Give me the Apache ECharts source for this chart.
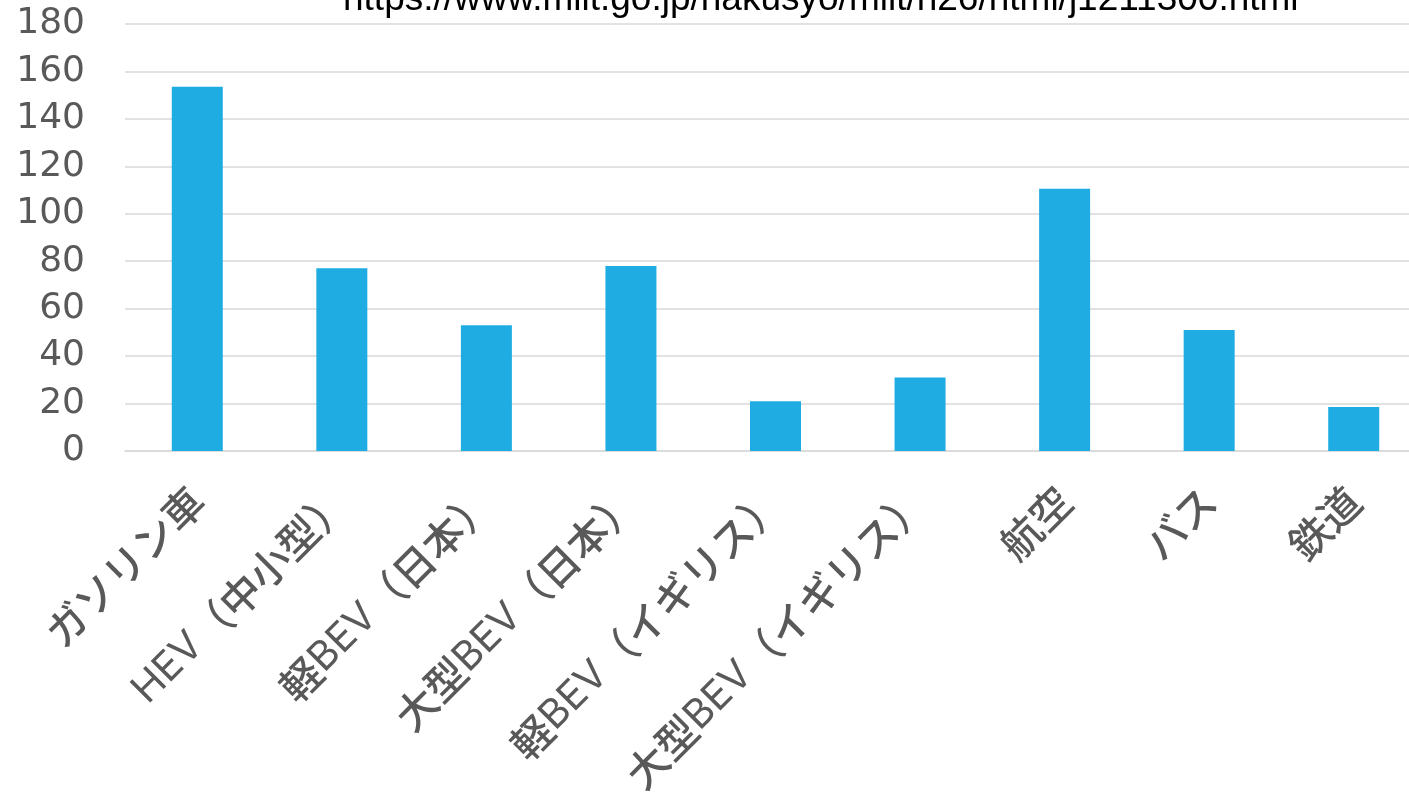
<!DOCTYPE html>
<html><head><meta charset="utf-8">
<script src="https://cdn.jsdelivr.net/npm/echarts@6/dist/echarts.min.js"></script>
<style>html,body{margin:0;padding:0;background:#fff;overflow:hidden}#c{width:1426px;height:799px}</style>
</head><body><div id="c"></div>
<script>
const categories = ["ガソリン車","HEV（中小型）","軽BEV（日本）","大型BEV（日本）","軽BEV（イギリス）","大型BEV（イギリス）","航空","バス","鉄道"];
const values = [153.5, 77, 53, 78, 21, 31, 110.5, 51, 18.5];
const titleText = "https://www.mlit.go.jp/hakusyo/mlit/h26/html/j1211300.html";

function splitRuns(s) {
  const parts = s.match(/[A-Za-z0-9 ]+|[^A-Za-z0-9 ]+/g) || [];
  return parts.map(p => /[A-Za-z0-9]/.test(p) ? '{l|' + p + '}' : '{c|' + p + '}').join('');
}

const chart = echarts.init(document.getElementById('c'));
chart.setOption({
  animation: false,
  title: {
    text: titleText,
    left: 338, top: -24,
    textStyle: {fontFamily: '"Liberation Sans Narrow", "Liberation Sans", sans-serif', fontSize: 37, fontWeight: 'normal', color: '#000'}
  },
  grid: {left: 125, top: 24, right: 0, height: 427, containLabel: false},
  xAxis: {
    type: 'category', data: categories,
    axisTick: {show: false},
    axisLine: {lineStyle: {color: '#d9d9d9', width: 1.5}},
    axisLabel: {rotate: 45, interval: 0, margin: 43, color: '#595959', fontSize: 40,
      formatter: v => splitRuns(v),
      rich: {
        c: {fontSize: 41, fontWeight: 500, color: '#595959', fontFamily: '"Noto Sans CJK JP", sans-serif'},
        l: {fontSize: 40, fontWeight: 'normal', color: '#595959', fontFamily: 'Inter, "Liberation Sans", sans-serif'}
      }
    }
  },
  yAxis: {
    type: 'value', min: 0, max: 180, interval: 20,
    axisLine: {show: false}, axisTick: {show: false},
    splitLine: {lineStyle: {color: '#d9d9d9', width: 1.5}},
    axisLabel: {color: '#595959', fontSize: 36, margin: 40, padding: [7, 0, 0, 0], fontFamily: '"DejaVu Sans", sans-serif'}
  },
  series: [{
    type: 'bar', data: values, barWidth: 51,
    itemStyle: {color: '#1eace3'}
  }]
});
</script></body></html>
